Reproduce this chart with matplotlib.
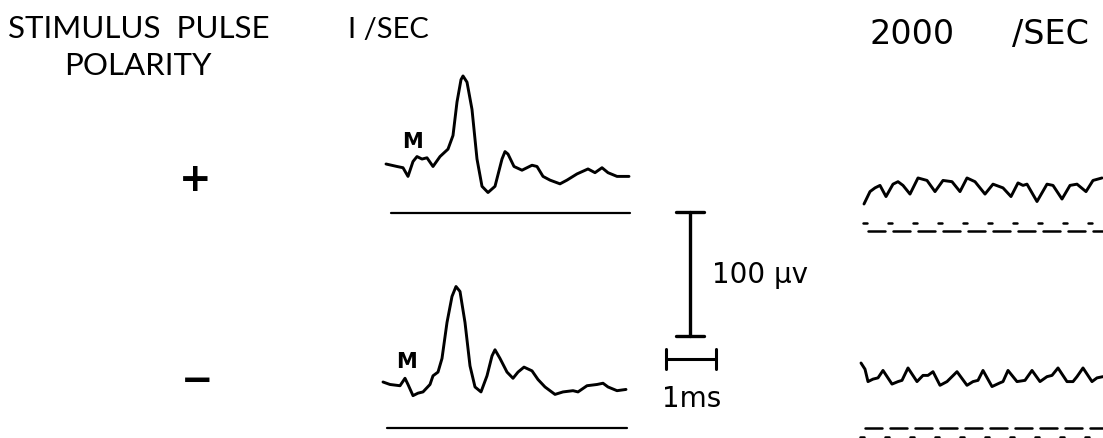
import numpy as np
import matplotlib
matplotlib.use("Agg")
import matplotlib.pyplot as plt
from matplotlib.transforms import Affine2D

# --- Trace data (time in ms, amplitude in uV, relative to trace start) ---
# 1/SEC, positive pulse
T_POS_1 = [0, .22, .34, .44, .54, .62, .72, .82, .94, 1.08, 1.24, 1.34, 1.42, 1.50, 1.54,
           1.62, 1.72, 1.82, 1.92, 2.04, 2.18, 2.32, 2.38, 2.44, 2.56, 2.72, 2.92, 3.02,
           3.14, 3.28, 3.48, 3.62, 3.82, 4.04, 4.18, 4.32, 4.44, 4.62, 4.86]
V_POS_1 = [0, -2, -3, -10, 2, 6, 4, 5, -2, 6, 12, 23, 50, 68, 71,
           66, 44, 4, -18, -23, -18, 4, 10, 8, -2, -5, -1, -2,
           -10, -13, -16, -13, -8, -4, -7, -3, -7, -10, -10]

# 1/SEC, negative pulse
T_NEG_1 = [0, .14, .34, .44, .50, .60, .70, .80, .94, 1.00, 1.10, 1.18, 1.28, 1.38, 1.46,
           1.54, 1.64, 1.74, 1.84, 1.96, 2.08, 2.18, 2.24, 2.34, 2.48, 2.60, 2.70, 2.82,
           2.98, 3.10, 3.24, 3.44, 3.60, 3.80, 3.90, 4.08, 4.28, 4.40, 4.50, 4.68, 4.86]
V_NEG_1 = [0, -2, -3, 3, -2, -11, -9, -8, -2, 5, 8, 19, 48, 69, 77,
           73, 48, 13, -4, -8, 5, 21, 26, 19, 8, 3, 8, 12,
           9, 2, -4, -10, -8, -7, -8, -3, -2, -1, -4, -7, -6]

# 2000/SEC, positive pulse
T_POS_2000 = [0, .12, .22, .32, .44, .58, .68, .78, .92, 1.08, 1.26, 1.42, 1.58, 1.76, 1.92,
              2.06, 2.22, 2.42, 2.58, 2.78, 2.94, 3.08, 3.18, 3.26, 3.46, 3.66, 3.78, 3.96,
              4.12, 4.26, 4.44, 4.58, 4.76]
V_POS_2000 = [0, 10, 13, 15, 6, 16, 18, 15, 8, 21, 19, 10, 19, 18, 10,
              21, 18, 8, 16, 13, 6, 17, 15, 16, 2, 16, 15, 4,
              15, 16, 10, 19, 21]

# 2000/SEC, negative pulse
T_NEG_2000 = [0, .08, .14, .24, .34, .44, .62, .74, .82, .94, 1.12, 1.24, 1.34, 1.44, 1.58,
              1.72, 1.82, 1.92, 2.12, 2.24, 2.34, 2.44, 2.62, 2.78, 2.84, 2.94, 3.12, 3.28,
              3.42, 3.58, 3.72, 3.82, 3.94, 4.12, 4.24, 4.32, 4.44, 4.62, 4.72, 4.84]
V_NEG_2000 = [0, -5, -15, -13, -12, -6, -17, -15, -14, -4, -15, -10, -10, -7, -18,
              -15, -11, -7, -18, -15, -14, -6, -19, -16, -15, -6, -15, -14,
              -6, -15, -11, -10, -4, -15, -15, -11, -4, -15, -12, -11]

# stimulus pulse times for the 2000/sec marker lines (ms)
STIM_TIMES = [0.0, 0.5, 1.0, 1.5, 2.0, 2.5, 3.0, 3.5, 4.0, 4.5]

SCALE_UV = 100   # vertical calibration
SCALE_MS = 1     # horizontal calibration

# --- Layout (pixels) ---
W, H = 1103, 439
PX_PER_MS = 50.0
PX_PER_UV = 1.24
LW_TRACE = 2.1

plt.rcParams['lines.solid_capstyle'] = 'round'
plt.rcParams['lines.solid_joinstyle'] = 'round'

fig = plt.figure(figsize=(W / 100, H / 100), dpi=100)
ax = fig.add_axes([0, 0, 1, 1])
ax.set_xlim(0, W)
ax.set_ylim(H, 0)
ax.axis('off')


def trace_tr(x0, y0):
    # ms / uV -> pixel position on the page
    return Affine2D().scale(PX_PER_MS, -PX_PER_UV).translate(x0, y0) + ax.transData


# recorded responses
ax.plot(T_POS_1, V_POS_1, color='black', lw=LW_TRACE, transform=trace_tr(386, 165))
ax.plot(T_NEG_1, V_NEG_1, color='black', lw=LW_TRACE, transform=trace_tr(383, 383))
ax.plot(T_POS_2000, V_POS_2000, color='black', lw=LW_TRACE, transform=trace_tr(864, 205))
ax.plot(T_NEG_2000, V_NEG_2000, color='black', lw=LW_TRACE, transform=trace_tr(861, 364))

# stimulus marker lines, 1/sec
ax.plot([0, 4.78], [0, 0], color='black', lw=1.6, transform=trace_tr(391, 214))
ax.plot([0, 4.80], [0, 0], color='black', lw=1.6, transform=trace_tr(387, 429))

# stimulus marker lines, 2000/sec (short tick then long dash)
tr_top = trace_tr(863, 232)
tr_bot = trace_tr(860, 438)
for t in STIM_TIMES:
    ax.plot([t, t + 0.08], [6.5, 6.5], color='black', lw=1.8, transform=tr_top)
    ax.plot([t + 0.1, t + 0.44], [0, 0], color='black', lw=1.8, transform=tr_top)
    ax.plot([t, t + 0.08], [0, 0], color='black', lw=1.8, transform=tr_bot)
    ax.plot([t + 0.1, t + 0.44], [7, 7], color='black', lw=1.8, transform=tr_bot)

# calibration bars
tr_v = trace_tr(690, 337)
ax.plot([0, 0], [0, SCALE_UV], color='black', lw=2.4, transform=tr_v)
ax.plot([-0.28, 0.28], [0, 0], color='black', lw=2.4, transform=tr_v)
ax.plot([-0.28, 0.28], [SCALE_UV, SCALE_UV], color='black', lw=2.4, transform=tr_v)
tr_h = trace_tr(666, 360)
ax.plot([0, SCALE_MS], [0, 0], color='black', lw=2.2, transform=tr_h)
ax.plot([0, 0], [-8, 8], color='black', lw=2.2, transform=tr_h)
ax.plot([SCALE_MS, SCALE_MS], [-8, 8], color='black', lw=2.2, transform=tr_h)

# --- Text ---
head = ['Lato', 'DejaVu Sans']
ax.text(8, 38, 'STIMULUS  PULSE', fontsize=22.5, family=head, ha='left', va='baseline')
ax.text(138, 75, 'POLARITY', fontsize=22.5, family=head, ha='center', va='baseline')
ax.text(348, 38, 'I /SEC', fontsize=21, family=head, ha='left', va='baseline')
ax.text(912, 44, '2000', fontsize=24, family='DejaVu Sans', ha='center', va='baseline')
ax.text(1050, 44, '/SEC', fontsize=24, family='DejaVu Sans', ha='center', va='baseline')

ax.text(195, 180, '+', fontsize=28, fontweight='bold', ha='center', va='center')
ax.text(197, 381, '\u2212', fontsize=28, fontweight='bold', ha='center', va='center')

ax.text(412, 148, 'M', fontsize=15, fontweight='bold', family='DejaVu Sans', ha='center', va='baseline')
ax.text(406, 368, 'M', fontsize=15, fontweight='bold', family='DejaVu Sans', ha='center', va='baseline')

ax.text(712, 283, '100 \u00b5v', fontsize=20, ha='left', va='baseline')
ax.text(692, 407, '1ms', fontsize=20, ha='center', va='baseline')

fig.savefig('out.png', dpi=100)
